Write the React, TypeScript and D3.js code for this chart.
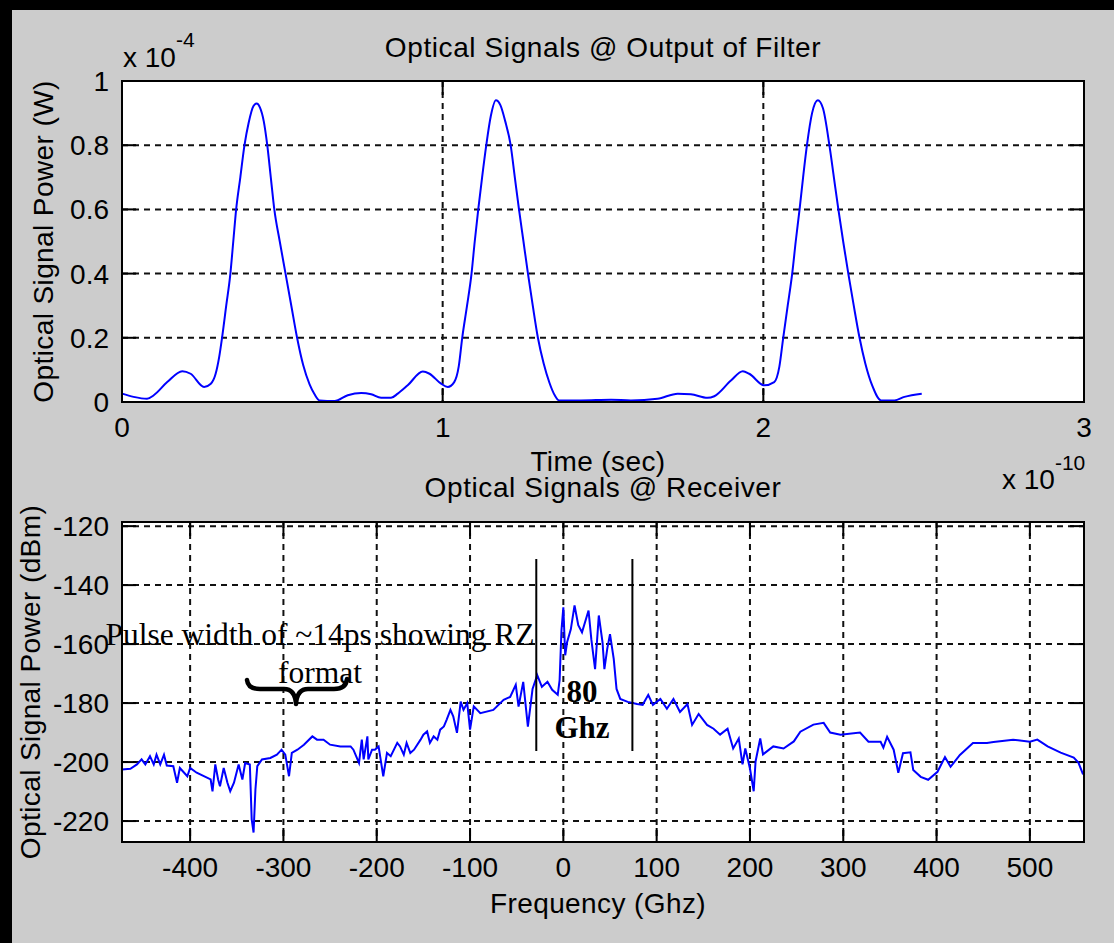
import React from "react";
import * as d3 from "d3";

// top plot: time in units of 1e-10 s, power in units of 1e-4 W
const timeT = [
  0, 0.036, 0.078, 0.099, 0.141, 0.188, 0.214, 0.256, 0.277, 0.292, 0.303, 0.312, 0.325, 0.338, 0.347,
  0.356, 0.369, 0.382, 0.395, 0.41, 0.42, 0.43, 0.442, 0.453, 0.464, 0.475, 0.492, 0.51, 0.528, 0.546,
  0.565, 0.585, 0.6, 0.616, 0.663, 0.704, 0.746, 0.777, 0.808, 0.839, 0.86, 0.891, 0.938, 0.959, 0.995,
  1.016, 1.036, 1.05, 1.061, 1.076, 1.09, 1.1, 1.111, 1.123, 1.136, 1.15, 1.166, 1.18, 1.195, 1.212,
  1.225, 1.238, 1.252, 1.266, 1.281, 1.297, 1.315, 1.333, 1.35, 1.363, 1.431, 1.525, 1.587, 1.67, 1.733,
  1.774, 1.826, 1.847, 1.899, 1.936, 1.956, 2.003, 2.034, 2.05, 2.062, 2.076, 2.09, 2.101, 2.113, 2.124,
  2.136, 2.152, 2.17, 2.186, 2.206, 2.22, 2.234, 2.249, 2.265, 2.282, 2.3, 2.318, 2.34, 2.367, 2.409,
  2.44, 2.494,
];
const timeP = [
  0.026, 0.016, 0.01, 0.021, 0.062, 0.096, 0.088, 0.047, 0.057, 0.088, 0.14, 0.2, 0.3, 0.4, 0.5,
  0.6, 0.7, 0.8, 0.87, 0.922, 0.93, 0.918, 0.875, 0.8, 0.7, 0.6, 0.5, 0.4, 0.3, 0.2,
  0.115, 0.055, 0.025, 0.005, 0.003, 0.021, 0.028, 0.024, 0.013, 0.013, 0.026, 0.052, 0.095, 0.088, 0.057,
  0.047, 0.062, 0.11, 0.2, 0.3, 0.4, 0.5, 0.6, 0.7, 0.8, 0.89, 0.94, 0.925, 0.875, 0.8,
  0.7, 0.6, 0.5, 0.4, 0.3, 0.2, 0.12, 0.06, 0.02, 0.005, 0.005, 0.007, 0.005, 0.01, 0.026,
  0.024, 0.013, 0.018, 0.067, 0.096, 0.088, 0.052, 0.062, 0.11, 0.2, 0.3, 0.4, 0.5, 0.6, 0.7,
  0.8, 0.9, 0.94, 0.915, 0.8, 0.7, 0.6, 0.5, 0.4, 0.3, 0.2, 0.12, 0.05, 0.005, 0.005,
  0.016, 0.026,
];

// bottom plot: frequency (GHz) vs power (dBm)
const freqF = [
  -473, -464, -457, -452, -448, -443, -439, -436, -432, -428, -425, -418, -414, -411, -403, -400, -393,
  -378, -376, -373, -370, -368, -364, -360, -357, -353, -348, -344, -341, -336, -334, -332, -330, -328,
  -323, -314, -307, -302, -298, -294, -291, -285, -278, -269, -264, -257, -250, -239, -228, -225, -219,
  -216, -214, -210, -209, -205, -202, -198, -193, -189, -185, -178, -175, -171, -168, -164, -160, -153,
  -150, -146, -143, -139, -135, -132, -128, -125, -121, -118, -114, -110, -107, -103, -100, -96, -89,
  -75, -64, -57, -51, -48, -43, -38, -33, -28, -23, -17, -12, -6, -4, -2, 0, 2, 4, 8, 12, 16, 20, 27,
  30, 34, 38, 42, 44, 47, 50, 54, 57, 61, 69, 79, 85, 91, 96, 104, 111, 118, 125, 133, 138, 145, 154,
  161, 168, 176, 182, 188, 192, 195, 200, 204, 206, 211, 214, 225, 236, 247, 254, 268, 279, 286, 297,
  318, 327, 340, 343, 347, 354, 359, 364, 372, 375, 383, 391, 401, 409, 415, 425, 439, 454, 461, 482,
  500, 508, 519, 533, 547, 552, 557,
];
const freqP = [
  -202.5, -202.3, -200.8, -199.1, -200.8, -198.0, -200.8, -197.5, -200.8, -197.5, -201.2, -201.4, -207.0,
  -202.0, -204.8, -202.0, -203.6, -205.9, -209.9, -200.8, -205.9, -208.2, -202.0, -207.0, -209.9, -207.0,
  -200.8, -205.9, -200.3, -200.8, -219.4, -223.9, -209.3, -201.4, -199.1, -198.6, -197.5, -195.8, -197.5,
  -204.8, -196.9, -195.8, -194.1, -191.3, -192.4, -192.4, -194.1, -194.7, -194.7, -195.8, -200.3, -192.4,
  -199.1, -191.3, -199.1, -195.8, -195.8, -194.7, -204.8, -196.9, -198.0, -193.5, -194.7, -197.5, -193.5,
  -196.9, -195.8, -192.4, -190.7, -189.6, -193.5, -191.3, -192.4, -189.0, -187.9, -185.6, -182.3, -184.5,
  -190.1, -179.5, -182.3, -180.0, -189.0, -181.1, -183.4, -182.3, -178.9, -177.9, -173.8, -181.2, -172.8,
  -188.0, -175.2, -170.5, -174.5, -172.8, -175.5, -177.2, -172.2, -155.3, -147.5, -163.8, -159.4, -155.0,
  -146.9, -153.6, -156.0, -148.6, -158.4, -168.5, -150.3, -159.4, -168.5, -161.7, -156.6, -165.0, -175.2,
  -178.6, -179.6, -180.3, -180.6, -177.2, -180.6, -178.6, -181.9, -178.6, -183.0, -180.3, -187.4, -183.7,
  -187.4, -188.7, -190.7, -188.7, -195.4, -192.0, -200.8, -195.4, -202.2, -209.9, -199.8, -192.0, -197.4,
  -194.7, -195.4, -193.0, -189.7, -187.3, -186.7, -190.0, -190.7, -190.0, -193.1, -193.1, -195.1, -191.4,
  -195.8, -203.6, -197.0, -196.7, -202.7, -205.0, -206.0, -203.3, -198.3, -201.6, -197.6, -193.5, -193.5,
  -193.2, -192.4, -193.1, -192.4, -194.7, -196.8, -198.5, -200.2, -204.2,
];

const timeTicks = [0, 1, 2, 3];
const powerTicks = [0, 0.2, 0.4, 0.6, 0.8, 1];
const powerTickLabels = ["0", "0.2", "0.4", "0.6", "0.8", "1"];
const freqTicks = [-400, -300, -200, -100, 0, 100, 200, 300, 400, 500];
const dbmTicks = [-220, -200, -180, -160, -140, -120];

const W = 1114;
const H = 943;
const sans = "'Liberation Sans', Arial, sans-serif";
const serif = "'Liberation Serif', 'Times New Roman', serif";
const fs = 28;
const tickLen = 14;
const dash = "6,5";

const left = 122;
const right = 1084;
const top1 = { top: 81, bottom: 402 };
const bot1 = { top: 522, bottom: 842 };

function Axes({ x, y, xTicks, yTicks, yLabels, box }) {
  const [x0, x1] = x.range();
  const yb = box.bottom;
  const yt = box.top;
  return (
    <g>
      <rect x={x0} y={yt} width={x1 - x0} height={yb - yt} fill="#fff" />
      {/* grid */}
      {xTicks.map((t) =>
        Math.abs(x(t) - x0) > 1 && Math.abs(x(t) - x1) > 1 ? (
          <line key={"gx" + t} x1={x(t)} x2={x(t)} y1={yt} y2={yb} stroke="#111" strokeWidth={2} strokeDasharray={dash} />
        ) : null
      )}
      {yTicks.map((t) =>
        Math.abs(y(t) - yt) > 1 && Math.abs(y(t) - yb) > 1 ? (
          <line key={"gy" + t} x1={x0} x2={x1} y1={y(t)} y2={y(t)} stroke="#111" strokeWidth={2} strokeDasharray={dash} />
        ) : null
      )}
      {/* ticks */}
      {xTicks.map((t) => (
        <g key={"tx" + t}>
          <line x1={x(t)} x2={x(t)} y1={yb} y2={yb - tickLen} stroke="#000" strokeWidth={2} />
          <line x1={x(t)} x2={x(t)} y1={yt} y2={yt + tickLen} stroke="#000" strokeWidth={2} />
        </g>
      ))}
      {yTicks.map((t) => (
        <g key={"ty" + t}>
          <line x1={x0} x2={x0 + tickLen} y1={y(t)} y2={y(t)} stroke="#000" strokeWidth={2} />
          <line x1={x1} x2={x1 - tickLen} y1={y(t)} y2={y(t)} stroke="#000" strokeWidth={2} />
        </g>
      ))}
      {yTicks.map((t, i) => (
        <text key={"ly" + t} x={x0 - 13} y={y(t)} dy="0.36em" textAnchor="end" fontFamily={sans} fontSize={fs} fill="#000">
          {yLabels[i]}
        </text>
      ))}
    </g>
  );
}

export default function App() {
  const xTop = d3.scaleLinear().domain([0, 3]).range([left, right]);
  const yTop = d3.scaleLinear().domain([0, 1]).range([top1.bottom, top1.top]);
  const xBot = d3.scaleLinear().domain([-473, 558]).range([left, right]);
  const yBot = d3.scaleLinear().domain([-227.1, -118.6]).range([bot1.bottom, bot1.top]);

  const topLine = d3
    .line<number>()
    .x((d, i) => xTop(timeT[i]))
    .y((d) => yTop(d))
    .curve(d3.curveMonotoneX);
  const botLine = d3
    .line<number>()
    .x((d, i) => xBot(freqF[i]))
    .y((d) => yBot(d));

  return (
    <div style={{ position: "absolute", left: 0, top: 0 }}>
      <svg width={W} height={H} style={{ display: "block" }}>
        <rect x={0} y={0} width={W} height={H} fill="#cccccc" />
        <rect x={0} y={0} width={W} height={10} fill="#000" />
        <rect x={0} y={0} width={12} height={H} fill="#000" />

        {/* top axes */}
        <Axes x={xTop} y={yTop} xTicks={timeTicks} yTicks={powerTicks} yLabels={powerTickLabels} box={top1} />
        <path d={topLine(timeP) || ""} fill="none" stroke="#0000ff" strokeWidth={2} />
        <rect x={left} y={top1.top} width={right - left} height={top1.bottom - top1.top} fill="none" stroke="#000" strokeWidth={2} />
        {timeTicks.map((t) => (
          <text key={"lt" + t} x={xTop(t)} y={437} textAnchor="middle" fontFamily={sans} fontSize={fs}>
            {t}
          </text>
        ))}
        <text x={(left + right) / 2} y={57} textAnchor="middle" fontFamily={sans} fontSize={fs} letterSpacing={0.6}>
          Optical Signals @ Output of Filter
        </text>
        <text x={123} y={67} fontFamily={sans} fontSize={fs}>
          x 10
          <tspan dy={-20} fontSize={21}>-4</tspan>
        </text>
        <text x={598} y={471} textAnchor="middle" fontFamily={sans} fontSize={fs} letterSpacing={0.4}>
          Time (sec)
        </text>
        <text x={1002} y={489} fontFamily={sans} fontSize={fs}>
          x 10
          <tspan dy={-19} fontSize={21}>-10</tspan>
        </text>
        <text
          transform={`translate(53, ${(top1.top + top1.bottom) / 2}) rotate(-90)`}
          textAnchor="middle"
          fontFamily={sans}
          fontSize={fs}
          letterSpacing={0.4}
        >
          Optical Signal Power (W)
        </text>

        {/* bottom axes */}
        <Axes x={xBot} y={yBot} xTicks={freqTicks} yTicks={dbmTicks} yLabels={dbmTicks.map(String)} box={bot1} />
        <path d={botLine(freqP) || ""} fill="none" stroke="#0000ff" strokeWidth={2} />
        <rect x={left} y={bot1.top} width={right - left} height={bot1.bottom - bot1.top} fill="none" stroke="#000" strokeWidth={2} />
        {freqTicks.map((t) => (
          <text key={"lf" + t} x={xBot(t)} y={877} textAnchor="middle" fontFamily={sans} fontSize={fs}>
            {t}
          </text>
        ))}
        <text x={(left + right) / 2} y={497} textAnchor="middle" fontFamily={sans} fontSize={fs} letterSpacing={0.6}>
          Optical Signals @ Receiver
        </text>
        <text x={598} y={913} textAnchor="middle" fontFamily={sans} fontSize={fs} letterSpacing={0.4}>
          Frequency (Ghz)
        </text>
        <text
          transform={`translate(40, ${(bot1.top + bot1.bottom) / 2}) rotate(-90)`}
          textAnchor="middle"
          fontFamily={sans}
          fontSize={fs}
          letterSpacing={0.4}
        >
          Optical Signal Power (dBm)
        </text>

        {/* annotations */}
        <text x={320} y={645} textAnchor="middle" fontFamily={serif} fontSize={31.5}>
          Pulse width of ~14ps showing RZ
        </text>
        <text x={320} y={683} textAnchor="middle" fontFamily={serif} fontSize={31.5}>
          format
        </text>
        <path
          d="M247,680 Q248,689 260,689 L284,689 Q295,689 296,704 Q297,689 308,689 L334,689 Q346,689 347,679"
          fill="none"
          stroke="#000"
          strokeWidth={4.5}
          strokeLinecap="round"
          strokeLinejoin="round"
        />
        <line x1={xBot(-29)} x2={xBot(-29)} y1={559} y2={751} stroke="#000" strokeWidth={2} />
        <line x1={xBot(74)} x2={xBot(74)} y1={559} y2={751} stroke="#000" strokeWidth={2} />
        <text x={582} y={702} textAnchor="middle" fontFamily={serif} fontWeight="bold" fontSize={31}>
          80
        </text>
        <text x={582} y={738} textAnchor="middle" fontFamily={serif} fontWeight="bold" fontSize={31}>
          Ghz
        </text>
      </svg>
    </div>
  );
}
